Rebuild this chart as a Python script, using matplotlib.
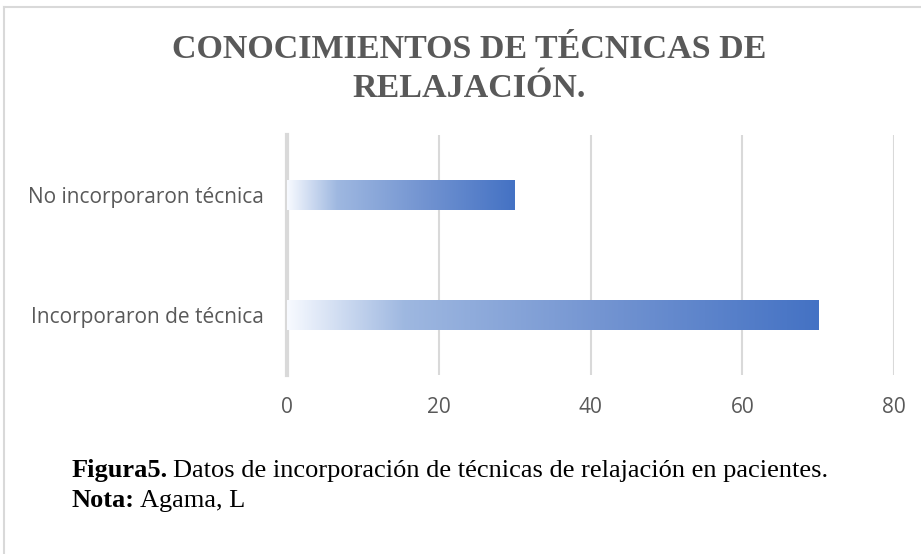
import numpy as np
import matplotlib
matplotlib.use("Agg")
import matplotlib.pyplot as plt
from matplotlib.colors import LinearSegmentedColormap
from matplotlib.lines import Line2D

categories = ["Incorporaron de técnica", "No incorporaron técnica"]
values = [70, 30]
xticks = [0, 20, 40, 60, 80]
title_lines = ["CONOCIMIENTOS DE TÉCNICAS DE", "RELAJACIÓN."]

W, H = 921, 554
fig = plt.figure(figsize=(W / 100, H / 100), dpi=100)
fig.patch.set_facecolor("white")

def fx(px):
    return px / W

def fy(py):
    return 1 - py / H

# figure frame lines (left / top)
fig.add_artist(Line2D([fx(4), fx(4)], [0, fy(7)], transform=fig.transFigure, color="#d9d9d9", lw=1.5))
fig.add_artist(Line2D([fx(4), 1], [fy(7), fy(7)], transform=fig.transFigure, color="#d9d9d9", lw=1.5))

ax = fig.add_axes([fx(287), fy(375), (894 - 287) / W, 240 / H])
ax.set_xlim(0, 80)
ax.set_ylim(-0.5, 1.5)

cmap = LinearSegmentedColormap.from_list(
    "grad",
    [(0.0, (0.97, 0.98, 1.0)), (0.22, (0.62, 0.72, 0.88)), (0.6, (0.45, 0.58, 0.82)),
     (1.0, (0.267, 0.447, 0.769))],
)
grad = np.linspace(0, 1, 256).reshape(1, -1)

bars = ax.barh(range(len(categories)), values, height=0.25, color="none", edgecolor="none", zorder=3)
for b in bars:
    x0, y0 = b.get_x(), b.get_y()
    w, h = b.get_width(), b.get_height()
    im = ax.imshow(grad, cmap=cmap, aspect="auto", extent=[x0, x0 + w, y0, y0 + h],
                   origin="lower", zorder=3, interpolation="bicubic")
    im.set_clip_path(b)

ax.set_xticks(xticks)
ax.set_xticklabels([str(t) for t in xticks])
ax.set_yticks(range(len(categories)))
ax.set_yticklabels(categories)
ax.grid(axis="x", color="#d9d9d9", lw=1.5, zorder=0)
ax.set_axisbelow(True)
for s in ["top", "right", "bottom"]:
    ax.spines[s].set_visible(False)
ax.spines["left"].set_color("#d9d9d9")
ax.spines["left"].set_linewidth(3)
ax.tick_params(axis="both", length=0, labelsize=15, labelcolor="#595959")
ax.tick_params(axis="x", pad=16)
ax.tick_params(axis="y", pad=17)
for lab in ax.get_xticklabels() + ax.get_yticklabels():
    lab.set_fontfamily("Open Sans")

fig.text(fx(469), fy(58), title_lines[0], ha="center", va="baseline", fontsize=24.5, fontweight="bold",
         color="#595959", fontfamily="Liberation Serif")
fig.text(fx(469), fy(97), title_lines[1], ha="center", va="baseline", fontsize=24.5, fontweight="bold",
         color="#595959", fontfamily="Liberation Serif")

t1 = fig.text(fx(72), fy(477), "Figura5.", ha="left", va="baseline", fontsize=19, fontweight="bold",
              fontfamily="Liberation Serif", color="black")
fig.text(fx(72), fy(477), "", fontsize=19)
t2 = fig.text(fx(72), fy(507), "Nota:", ha="left", va="baseline", fontsize=19, fontweight="bold",
              fontfamily="Liberation Serif", color="black")

fig.canvas.draw()
r = fig.canvas.get_renderer()
e1 = t1.get_window_extent(r)
e2 = t2.get_window_extent(r)
fig.text(e1.x1 / W + fx(5), fy(477), "Datos de incorporación de técnicas de relajación en pacientes.",
         ha="left", va="baseline", fontsize=19, fontfamily="Liberation Serif", color="black")
fig.text(e2.x1 / W + fx(5), fy(507), "Agama, L", ha="left", va="baseline", fontsize=19,
         fontfamily="Liberation Serif", color="black")

fig.savefig("out.png", dpi=100, facecolor="white")
